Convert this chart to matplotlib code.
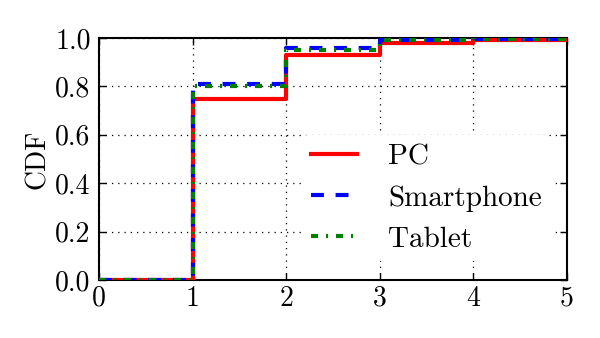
import matplotlib
matplotlib.use("Agg")
import matplotlib.pyplot as plt

x = [0, 1, 2, 3, 4, 5]
pc = [0.0, 0.75, 0.93, 0.978, 0.99, 0.99]
smartphone = [0.0, 0.81, 0.96, 0.99, 0.995, 0.995]
tablet = [0.0, 0.80, 0.95, 0.99, 0.995, 0.995]
xticks = [0, 1, 2, 3, 4, 5]
yticks = [0.0, 0.2, 0.4, 0.6, 0.8, 1.0]

plt.rcParams['font.family'] = ['cmr10', 'DejaVu Serif']
plt.rcParams['axes.formatter.use_mathtext'] = True

fig = plt.figure(figsize=(6, 3.38), dpi=100)
ax = fig.add_axes([99/600, 1-280/338, (567-99)/600, (280-38)/338])

ax.plot(x, pc, drawstyle='steps-post', color='red', lw=3, label='PC', zorder=3)
ax.plot(x, smartphone, drawstyle='steps-post', color='blue', lw=3, ls=(0, (3.1, 2.8)), label='Smartphone', zorder=4)
ax.plot(x, tablet, drawstyle='steps-post', color='green', lw=3, ls=(0, (1.7, 1.9, 0.5, 1.9)), label='Tablet', zorder=5)

ax.set_xlim(0, 5)
ax.set_ylim(0, 1)
ax.set_xticks(xticks)
ax.set_yticks(yticks)
ax.set_xticklabels([str(v) for v in xticks])
ax.set_yticklabels([f"{v:.1f}" for v in yticks])
ax.tick_params(direction='in', top=True, right=True, labelsize=20, length=5, width=1, pad=6)
ax.tick_params(axis='x', pad=4)
ax.grid(True, color='black', ls=(0, (1, 4)), lw=0.9)
for s in ax.spines.values():
    s.set_linewidth(1.5)
ax.set_ylabel('CDF', fontsize=20, labelpad=3)

leg = ax.legend(loc='lower right', bbox_to_anchor=(0.996, 0.017), fontsize=21, frameon=True,
                handlelength=1.6, handletextpad=1.05, labelspacing=0.5, borderpad=0.3)
leg.get_frame().set_edgecolor('none')
leg.get_frame().set_facecolor('white')
leg.get_frame().set_alpha(1)

fig.savefig('out.png', dpi=100)
